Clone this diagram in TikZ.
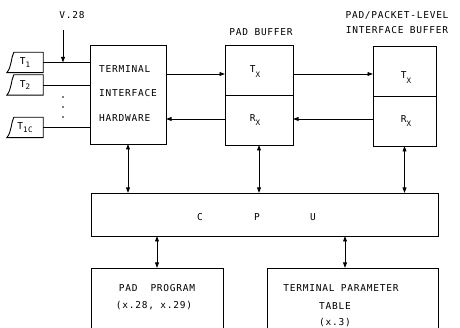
\documentclass[tikz,border=0pt]{standalone}
\usepackage{fontspec}
\newfontfamily\labfont[LetterSpace=8]{DejaVu Sans Mono}
\usetikzlibrary{arrows.meta}
\newcommand\lowsub[2][-3.5pt]{\raisebox{#1}{\fontsize{7.5}{7.5}\selectfont #2}}
\begin{document}
\begin{tikzpicture}[x=1pt,y=-1pt,
  ln/.style={line width=0.9pt},
  box/.style={draw, line width=0.9pt, inner sep=0pt, outer sep=0pt},
  lbl/.style={font=\labfont\fontsize{9.5}{10}\selectfont, inner sep=0pt},
  termtxt/.style={font=\labfont\fontsize{9.5}{10}\selectfont, inner sep=0pt, minimum width=36pt, minimum height=20pt},
  arr/.style={ln, -{Triangle[length=5.5pt,width=3.8pt]}},
  darr/.style={ln, {Triangle[length=5.5pt,width=3.8pt]}-{Triangle[length=5.5pt,width=3.8pt]}}]
\useasboundingbox (0,0) rectangle (460,328);
\clip (0,0) rectangle (460,328);

% main boxes
\node[box, minimum width=76pt, minimum height=99pt] (tih) at (128,94.5) {};
\node[box, minimum width=68pt, minimum height=50pt] (padtx) at (259,70) {};
\node[box, minimum width=68pt, minimum height=50pt] (padrx) at (259,120) {};
\node[box, minimum width=63pt, minimum height=50pt] (pptx) at (404.5,71) {};
\node[box, minimum width=63pt, minimum height=50pt] (pprx) at (404.5,121) {};
\node[box, minimum width=347pt, minimum height=43pt] (cpu) at (264.5,214.5) {};
\node[box, minimum width=132pt, minimum height=80pt] (prog) at (157,308) {};
\node[box, minimum width=171pt, minimum height=80pt] (tpt) at (352.5,308) {};

% texts in boxes
\node[lbl, anchor=west] (tih1) at (99,69) {TERMINAL};
\node[lbl, anchor=west] (tih2) at (99,93) {INTERFACE};
\node[lbl, anchor=west] (tih3) at (99,118) {HARDWARE};
\node[lbl] (padtxl) at (255,72) {T\lowsub[-5pt]{X}};
\node[lbl] (padrxl) at (255,120) {R\lowsub{X}};
\node[lbl] (pptxl) at (406,78) {T\lowsub[-5pt]{X}};
\node[lbl] (pprxl) at (406,121) {R\lowsub{X}};
\node[lbl] (cpuc) at (200,217) {C};
\node[lbl] (cpup) at (257,217) {P};
\node[lbl] (cpuu) at (313,217) {U};
\node[lbl] (prog1) at (157,288) {PAD\ \ PROGRAM};
\node[lbl] (prog2) at (154,306) {(x.28, x.29)};
\node[lbl] (tpt1) at (341,288) {TERMINAL PARAMETER};
\node[lbl] (tpt2) at (335,306) {TABLE};
\node[lbl] (tpt3) at (335,323) {(x.3)};

% headings
\node[lbl] (padbuf) at (261,32) {PAD BUFFER};
\node[lbl] (pphead1) at (397,15) {PAD/PACKET-LEVEL};
\node[lbl] (pphead2) at (397,30) {INTERFACE BUFFER};
\node[lbl] (v28) at (72,15) {V.28};

% terminals
\node[termtxt] (t1) at (25,62.5) {T\lowsub[-2.5pt]{1}};
\node[termtxt] (t2) at (25,85) {T\lowsub[-2.5pt]{2}};
\node[termtxt] (t16) at (25,127.5) {T\lowsub[-2.5pt]{1C}};
\foreach \t in {t1,t2,t16}{
  \draw[ln] (\t.north east) -- ([xshift=7pt]\t.north west)
    .. controls ([xshift=4pt,yshift=-6pt]\t.north west) and ([xshift=5pt,yshift=6pt]\t.south west)
    .. (\t.south west) -- (\t.south east) -- cycle;
  \draw[ln] (\t.east) -- (\t.east -| tih.west);
}
\fill (63,97) circle (0.8pt) (63,107) circle (0.8pt) (63,117) circle (0.8pt);

% V.28 arrow
\coordinate (v28a) at (63,30);
\draw[arr] (v28a) -- (v28a |- t1.east);

% horizontal data paths
\coordinate (ytx) at (0,74);
\coordinate (yrx) at (0,119);
\draw[arr] (tih.east |- ytx) -- (padtx.west |- ytx);
\draw[arr] (padtx.east |- ytx) -- (pptx.west |- ytx);
\draw[arr] (pprx.west |- yrx) -- (padrx.east |- yrx);
\draw[arr] (padrx.west |- yrx) -- (tih.east |- yrx);

% vertical links to CPU
\draw[darr] (tih.south) -- (tih.south |- cpu.north);
\draw[darr] (padrx.south) -- (padrx.south |- cpu.north);
\draw[darr] (pprx.south) -- (pprx.south |- cpu.north);
\coordinate (tptx) at (345,0);
\draw[darr] (prog.north |- cpu.south) -- (prog.north);
\draw[darr] (tptx |- cpu.south) -- (tptx |- tpt.north);
\end{tikzpicture}
\end{document}
